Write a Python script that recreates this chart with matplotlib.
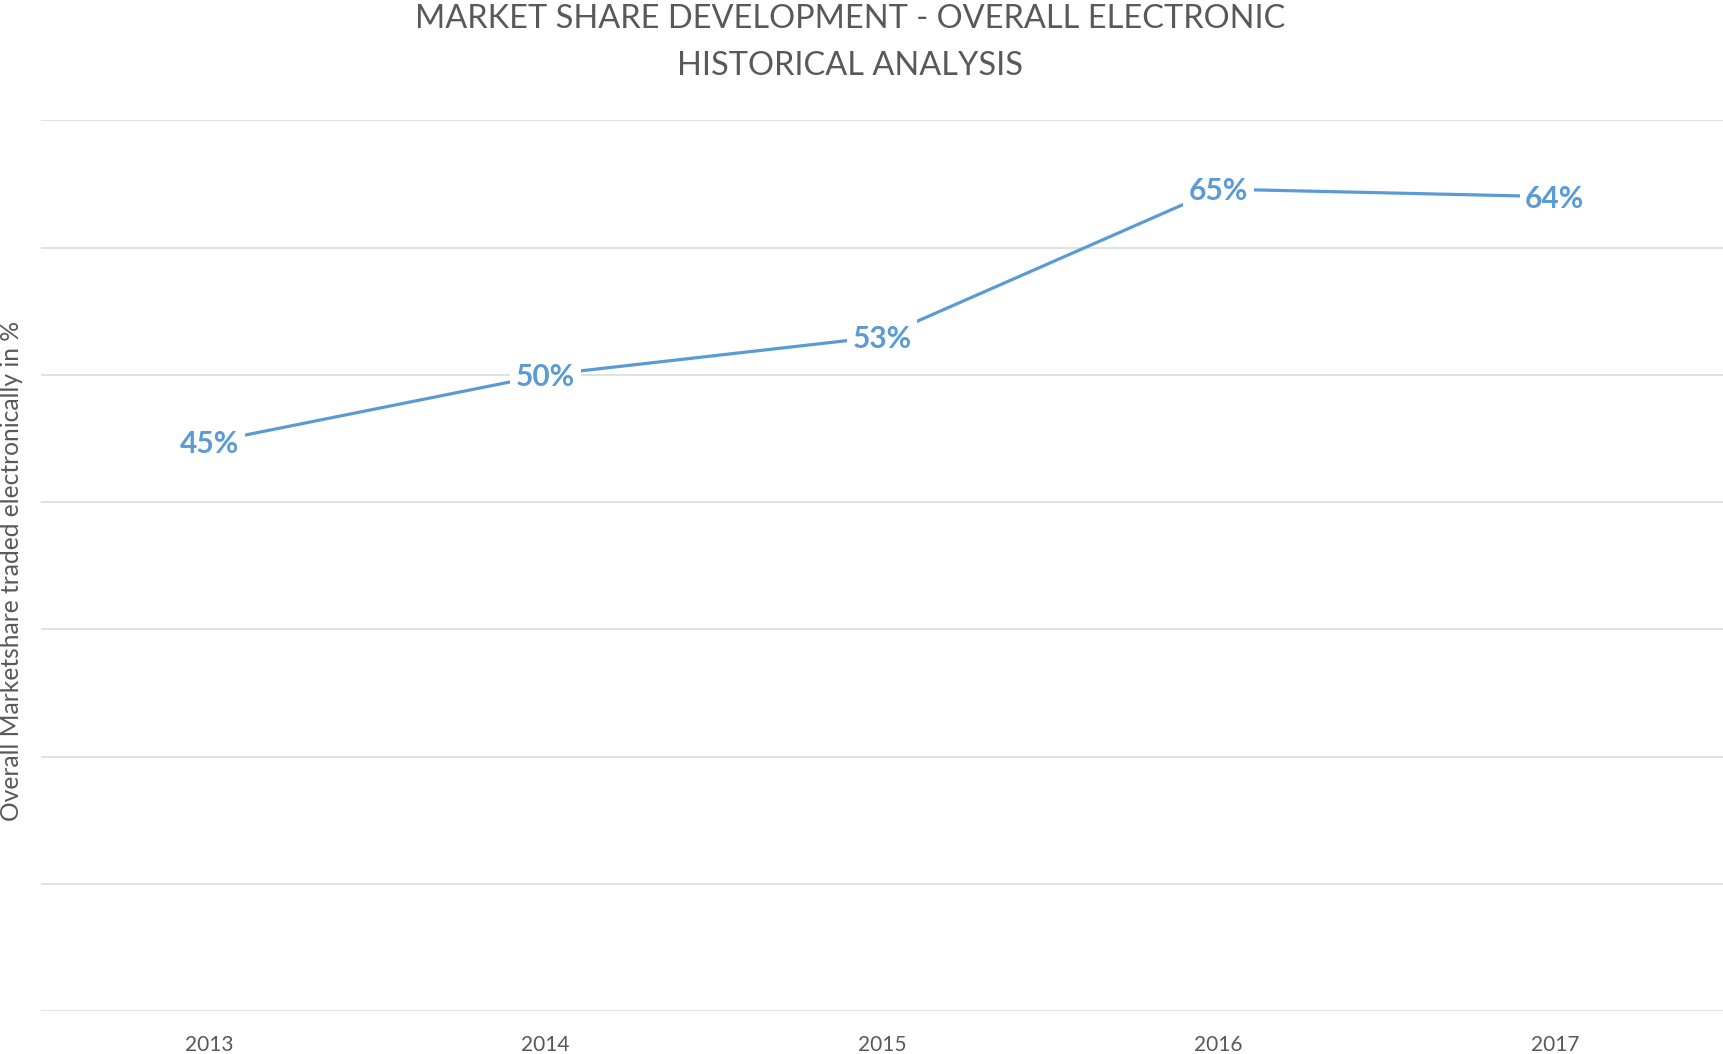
import numpy as np
import matplotlib.pyplot as plt

# data
years = ['2013', '2014', '2015', '2016', '2017']
share = [44.7, 50.0, 53.0, 64.6, 64.0]
share_labels = ['45%', '50%', '53%', '65%', '64%']

title_lines = ['MARKET SHARE DEVELOPMENT - OVERALL ELECTRONIC', 'HISTORICAL ANALYSIS']
ylabel = 'Overall Marketshare traded electronically in %'

blue = '#5B9BD5'
grey_text = '#595959'
grid_col = '#D9D9D9'

plt.rcParams['font.family'] = ['Lato', 'DejaVu Sans']

fig = plt.figure(figsize=(17.23, 10.54), dpi=100)
ax = fig.add_axes([0.0238, 0.0408, 0.9762, 0.845])

x = np.arange(len(years))
ax.plot(x, share, color=blue, lw=2.3, solid_capstyle='butt', zorder=2)

for xi, yi, lab in zip(x, share, share_labels):
    ax.text(xi, yi - 0.15, lab, ha='center', va='center', fontsize=21.5,
            fontweight='bold', color=blue, zorder=3,
            bbox=dict(facecolor='white', edgecolor='none', pad=4))

ax.set_xlim(-0.5, len(years) - 0.5)
ax.set_ylim(0, 70)
ax.set_yticks(np.arange(0, 71, 10))
ax.yaxis.grid(True, color=grid_col, lw=1.1, zorder=0)
ax.set_axisbelow(True)
ax.tick_params(axis='y', left=False, labelleft=False)
ax.set_xticks(x)
ax.set_xticklabels(years, fontsize=15, color=grey_text)
ax.tick_params(axis='x', length=0, pad=17)
for s in ax.spines.values():
    s.set_visible(False)

fig.text(0.0065, 0.458, ylabel, rotation=90, ha='center', va='center',
         fontsize=17.7, color=grey_text)
fig.text(0.4935, 0.982, title_lines[0], ha='center', va='center', fontsize=23.4,
         color=grey_text)
fig.text(0.4935, 0.937, title_lines[1], ha='center', va='center', fontsize=23.4,
         color=grey_text)

fig.savefig('out.png', dpi=100)
